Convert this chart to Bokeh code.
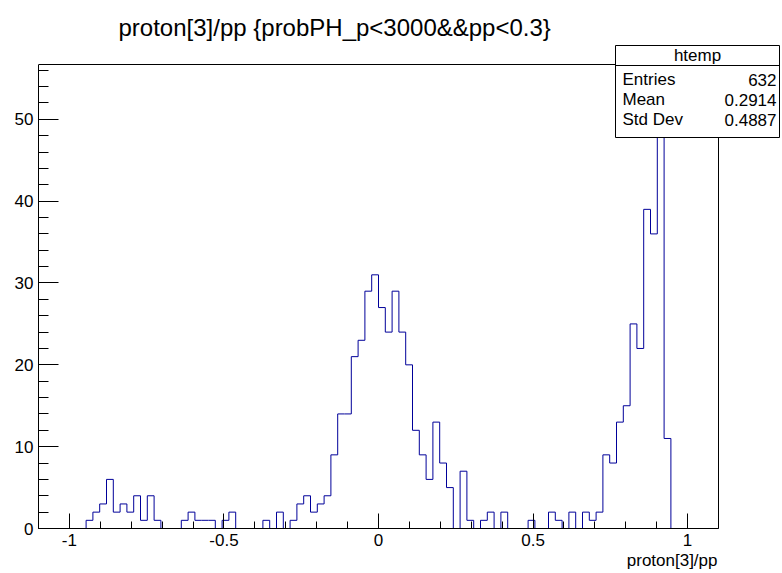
import numpy as np
from bokeh.plotting import figure
from bokeh.models import FixedTicker, Range1d, Title
from bokeh.core.properties import value
from bokeh.embed import file_html
from bokeh.resources import INLINE

# ---- data ----
title_text = "proton[3]/pp {probPH_p<3000&&pp<0.3}"
x_title = "proton[3]/pp"
hist_name = "htemp"
x_min, x_max = -1.1, 1.1
counts = [
    0, 0, 0, 0, 0, 0, 0, 1, 2, 3,
    6, 2, 3, 2, 4, 1, 4, 1, 0, 0,
    0, 1, 2, 1, 1, 1, 0, 1, 2, 0,
    0, 0, 0, 1, 0, 2, 0, 1, 3, 4,
    2, 3, 4, 9, 14, 14, 21, 23, 29, 31,
    27, 24, 29, 24, 20, 12, 9, 6, 13, 8,
    5, 0, 7, 1, 0, 1, 2, 0, 2, 0,
    0, 0, 1, 0, 0, 2, 1, 0, 2, 0,
    2, 1, 2, 9, 8, 13, 15, 25, 22, 39,
    36, 54, 11, 0, 0, 0, 0, 0, 0, 0,
]
stat_labels = ["Entries", "Mean", "Std Dev"]
stat_values = ["632", "0.2914", "0.4887"]
x_major = [-1, -0.5, 0, 0.5, 1]
x_major_text = ["-1", "-0.5", "0", "0.5", "1"]
y_major = [0, 10, 20, 30, 40, 50]

FONT = "Liberation Sans"
y_top = max(counts) * 1.05

# ---- layout in page pixels (Bokeh's page template has no body margin) ----
W, H = 782, 573
hist_left, hist_right = 38, 718        # histogram frame, page x
hist_top, hist_bottom = 64, 528        # histogram frame, page y
frame_right_px = 781                   # drawing frame extended for the stats box
frame_top_px = 44

ppx = (hist_right - hist_left) / (x_max - x_min)
ppy = (hist_bottom - hist_top) / y_top

def dx(px):
    return x_min + (px - hist_left) / ppx

def dy(py):
    return (hist_bottom - py) / ppy

p = figure(width=W, height=H, output_backend="svg", toolbar_location=None,
           x_range=Range1d(x_min, dx(frame_right_px)),
           y_range=Range1d(0, dy(frame_top_px)),
           min_border_left=hist_left,
           min_border_right=W - frame_right_px,
           min_border_top=frame_top_px,
           min_border_bottom=H - hist_bottom)
p.background_fill_color = "white"
p.border_fill_color = "white"
p.outline_line_color = None
p.xgrid.visible = False
p.ygrid.visible = False

# title (above) and x-axis title (below, right aligned to the histogram frame)
p.add_layout(Title(text=title_text, align="left", offset=118 - hist_left,
                   standoff=7, text_font=FONT, text_font_size="24px",
                   text_font_style="normal", text_color="black"), "above")
p.add_layout(Title(text=x_title, align="right", offset=frame_right_px - 717,
                   standoff=1, text_font=FONT, text_font_size="17px",
                   text_font_style="normal", text_color="black"), "below")

# histogram
edges = np.linspace(x_min, x_max, len(counts) + 1)
ys = list(counts) + [counts[-1]]
p.step(edges, ys, mode="after", line_color="#000099", line_width=1)

# top and right sides of the histogram frame
p.line([x_min, x_max, x_max], [y_top, y_top, 0], line_color="black", line_width=1)

xa = p.xaxis[0]
xa.bounds = (x_min, x_max)
xa.ticker = FixedTicker(ticks=x_major,
                        minor_ticks=[round(k * 0.1, 2) for k in range(-11, 12)])
xa.major_label_overrides = {float(v): t for v, t in zip(x_major, x_major_text)}
xa.major_tick_in = 15
xa.major_tick_out = 0
xa.minor_tick_in = 7
xa.minor_tick_out = 0
xa.major_label_text_font = FONT
xa.major_label_text_font_size = "17px"
xa.major_label_text_color = "black"
xa.major_label_standoff = 5
xa.axis_line_color = "black"

ya = p.yaxis[0]
ya.bounds = (0, y_top)
ya.ticker = FixedTicker(ticks=y_major, minor_ticks=list(range(0, 57, 2)))
ya.major_tick_in = 20
ya.major_tick_out = 0
ya.minor_tick_in = 10
ya.minor_tick_out = 0
ya.major_label_text_font = FONT
ya.major_label_text_font_size = "17px"
ya.major_label_text_color = "black"
ya.major_label_standoff = 5
ya.axis_line_color = "black"

# stats box
bl, br, bt, bb, bsep = 615, 779, 45, 137, 65
p.quad(left=[dx(bl)], right=[dx(br)], top=[dy(bt)], bottom=[dy(bb)],
       fill_color="white", line_color="black", line_width=1)
p.line([dx(bl), dx(br)], [dy(bsep), dy(bsep)], line_color="black", line_width=1)
p.text(x=[dx((bl + br) / 2)], y=[dy(55)], text=[hist_name],
       text_font=value(FONT), text_font_size="17px", text_color="black",
       text_baseline="middle", text_align="center")
row_y = [dy(79 + 20 * i) for i in range(len(stat_labels))]
p.text(x=[dx(622)] * len(stat_labels), y=row_y, text=stat_labels,
       text_font=value(FONT), text_font_size="17px", text_color="black",
       text_baseline="middle", text_align="left")
p.text(x=[dx(776)] * len(stat_values), y=row_y, text=stat_values,
       text_font=value(FONT), text_font_size="17px", text_color="black",
       text_baseline="middle", text_align="right")

open("out.html", "w").write(file_html(p, INLINE))
